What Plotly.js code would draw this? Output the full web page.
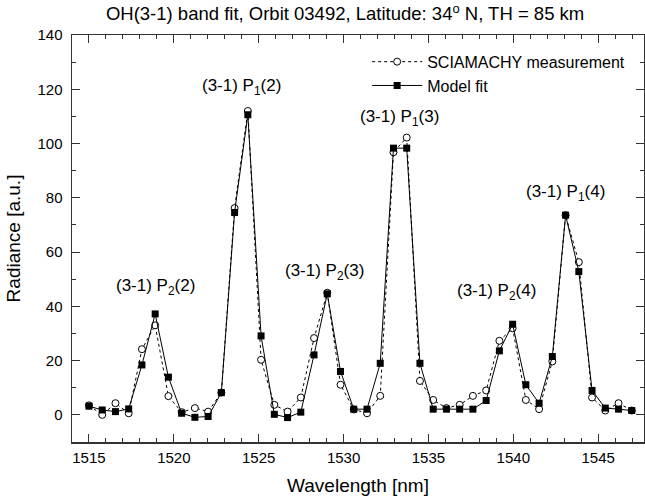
<!DOCTYPE html>
<html>
<head>
<meta charset="utf-8">
<script src="https://cdn.plot.ly/plotly-3.0.1.min.js"></script>
<style>html,body{margin:0;padding:0;background:#fff;}#chart{width:645px;height:498px;}</style>
</head>
<body>
<div id="chart"></div>
<script>
// Wavelength sampling points [nm]
const wavelength = [1515.00, 1515.78, 1516.56, 1517.34, 1518.12, 1518.90, 1519.68, 1520.46, 1521.24, 1522.02,
                    1522.80, 1523.58, 1524.36, 1525.14, 1525.92, 1526.70, 1527.48, 1528.26, 1529.04, 1529.82,
                    1530.60, 1531.38, 1532.16, 1532.94, 1533.72, 1534.50, 1535.28, 1536.06, 1536.84, 1537.62,
                    1538.40, 1539.18, 1539.96, 1540.74, 1541.52, 1542.30, 1543.08, 1543.86, 1544.64, 1545.42,
                    1546.20, 1546.98];
// SCIAMACHY measurement (open circles)
const measurement = [3.5, 0.0, 4.3, 0.6, 24.2, 33.0, 6.9, 1.0, 2.5, 1.2,
                     8.2, 76.2, 112.0, 20.3, 3.7, 1.2, 6.4, 28.3, 45.0, 11.1,
                     2.0, 0.6, 7.0, 96.8, 102.2, 12.5, 5.5, 2.5, 3.7, 7.0,
                     9.0, 27.3, 31.9, 5.5, 2.1, 19.7, 73.6, 56.3, 6.4, 1.6,
                     4.3, 1.6];
// Model fit (filled squares)
const modelFit = [3.2, 1.8, 1.2, 2.2, 18.4, 37.2, 13.9, 0.6, -0.9, -0.6,
                  8.2, 74.6, 110.6, 29.1, 0.2, -1.0, 1.0, 22.1, 44.6, 16.0,
                  2.1, 2.1, 19.0, 98.3, 98.3, 19.0, 2.1, 2.1, 2.1, 2.1,
                  5.3, 23.6, 33.4, 11.1, 4.3, 21.5, 73.6, 52.8, 9.0, 2.5,
                  2.1, 1.6];
// Peak labels
const peakLabels = ['(3-1) P<sub>2</sub>(2)', '(3-1) P<sub>1</sub>(2)', '(3-1) P<sub>2</sub>(3)',
                    '(3-1) P<sub>1</sub>(3)', '(3-1) P<sub>2</sub>(4)', '(3-1) P<sub>1</sub>(4)'];
const peakLabelX = [1518.9, 1524.0, 1528.9, 1533.3, 1539.0, 1543.1];
const peakLabelY = [47.2, 121.0, 52.8, 109.3, 45.4, 81.7];

const FONT = 'Liberation Sans, Arial, Helvetica, sans-serif';

const traces = [
  {
    x: wavelength, y: measurement, name: 'SCIAMACHY measurement',
    type: 'scatter', mode: 'lines+markers',
    line: {color: '#000', width: 1, dash: 'dot'},
    marker: {symbol: 'circle', size: 7, color: '#fff', line: {color: '#000', width: 1}}
  },
  {
    x: wavelength, y: modelFit, name: 'Model fit',
    type: 'scatter', mode: 'lines+markers',
    line: {color: '#000', width: 1},
    marker: {symbol: 'square', size: 7, color: '#000', line: {color: '#000', width: 0}}
  }
];

const annotations = peakLabels.map((t, i) => ({
  x: peakLabelX[i], y: peakLabelY[i], xref: 'x', yref: 'y', text: t, showarrow: false,
  font: {family: FONT, size: 17, color: '#000'}
}));

const axisCommon = {
  showgrid: false, zeroline: false, showline: true, linecolor: '#333', linewidth: 1.5,
  mirror: 'allticks', ticks: 'inside', tickcolor: '#333', tickwidth: 1, ticklen: 8,
  tickfont: {family: FONT, size: 15, color: '#000'}
};

const layout = {
  width: 645, height: 498,
  margin: {l: 72, r: 1, t: 35, b: 56},
  paper_bgcolor: '#fff', plot_bgcolor: '#fff',
  title: {text: 'OH(3-1) band fit, Orbit 03492, Latitude: 34<sup>o</sup> N, TH = 85 km',
          font: {family: FONT, size: 18.5, color: '#000'}, x: 0.535, xanchor: 'center', y: 0.972, yanchor: 'middle'},
  xaxis: Object.assign({}, axisCommon, {
    range: [1514, 1547.7], tickmode: 'linear', tick0: 1515, dtick: 5, ticklabelstandoff: 1,
    minor: {dtick: 1, ticks: 'inside', ticklen: 4, tickcolor: '#333', tickwidth: 1},
    title: {text: 'Wavelength [nm]', font: {family: FONT, size: 19, color: '#000'}, standoff: 14}
  }),
  yaxis: Object.assign({}, axisCommon, {
    range: [-10, 140], tickmode: 'linear', tick0: 0, dtick: 20, ticklabelstandoff: 5,
    minor: {dtick: 10, ticks: 'inside', ticklen: 4, tickcolor: '#333', tickwidth: 1},
    title: {text: 'Radiance [a.u.]', font: {family: FONT, size: 19, color: '#000'}, standoff: 12}
  }),
  legend: {x: 0.516, y: 0.976, xanchor: 'left', yanchor: 'top', bgcolor: 'rgba(0,0,0,0)',
           font: {family: FONT, size: 16, color: '#000'}, itemwidth: 50, tracegroupgap: 0},
  showlegend: true,
  annotations: annotations
};

Plotly.newPlot('chart', traces, layout, {displayModeBar: false, staticPlot: true});
</script>
</body>
</html>
